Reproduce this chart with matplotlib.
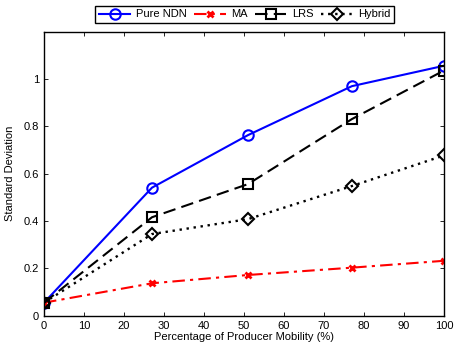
import matplotlib
matplotlib.use("Agg")
import matplotlib.pyplot as plt

# =========================================================
# DATA
# =========================================================

mobility = [0, 27, 51, 77, 100]

pure_ndn = [0.055, 0.541, 0.763, 0.970, 1.056]
ma = [0.055, 0.137, 0.172, 0.203, 0.232]
lrs = [0.055, 0.416, 0.556, 0.831, 1.036]
hybrid = [0.055, 0.345, 0.408, 0.548, 0.677]

x_ticks = [0, 10, 20, 30, 40, 50, 60, 70, 80, 90, 100]
y_ticks = [0, 0.2, 0.4, 0.6, 0.8, 1.0]
y_tick_labels = ["0", "0.2", "0.4", "0.6", "0.8", "1"]

# =========================================================
# PLOT
# =========================================================

plt.rcParams["font.family"] = ["Liberation Sans", "DejaVu Sans"]
plt.rcParams["font.size"] = 8

fig = plt.figure(figsize=(4.55, 3.5), dpi=100)
ax = fig.add_axes([0.0967, 0.098, 0.879, 0.8114])

ax.plot(
    mobility, pure_ndn,
    color="blue", linestyle="-", linewidth=1.5,
    marker="o", markersize=7.5, markerfacecolor="none",
    markeredgewidth=1.5, label="Pure NDN"
)

ax.plot(
    mobility, ma,
    color="red", linestyle=(0, (6, 2.5, 1.5, 2.5)), linewidth=1.5,
    marker="x", markersize=5, markeredgewidth=2,
    label="MA"
)

ax.plot(
    mobility, lrs,
    color="black", linestyle=(0, (6, 3)), linewidth=1.5,
    marker="s", markersize=6.5, markerfacecolor="none",
    markeredgewidth=1.5, label="LRS"
)

ax.plot(
    mobility, hybrid,
    color="black", linestyle=(0, (1, 2)), linewidth=1.7,
    marker="D", markersize=6.5, markerfacecolor="none",
    markeredgewidth=1.5, label="Hybrid"
)

ax.set_xlim(0, 100)
ax.set_ylim(0, 1.2)
ax.set_xticks(x_ticks)
ax.set_yticks(y_ticks)
ax.set_yticklabels(y_tick_labels)

ax.tick_params(
    direction="in", top=True, right=True,
    length=3, width=0.6, labelsize=8
)

for spine in ax.spines.values():
    spine.set_linewidth(1.0)

ax.set_xlabel("Percentage of Producer Mobility (%)", fontsize=8, labelpad=1)
ax.set_ylabel("Standard Deviation", fontsize=8, labelpad=6)

leg = fig.legend(
    loc="upper center", bbox_to_anchor=(0.538, 1.0),
    ncol=4, fontsize=8, frameon=True, fancybox=False,
    handlelength=2.8, handletextpad=0.5, columnspacing=0.7,
    borderpad=0.35, edgecolor="black", framealpha=1
)
leg.get_frame().set_linewidth(1.0)

fig.savefig("out.png", dpi=100)
